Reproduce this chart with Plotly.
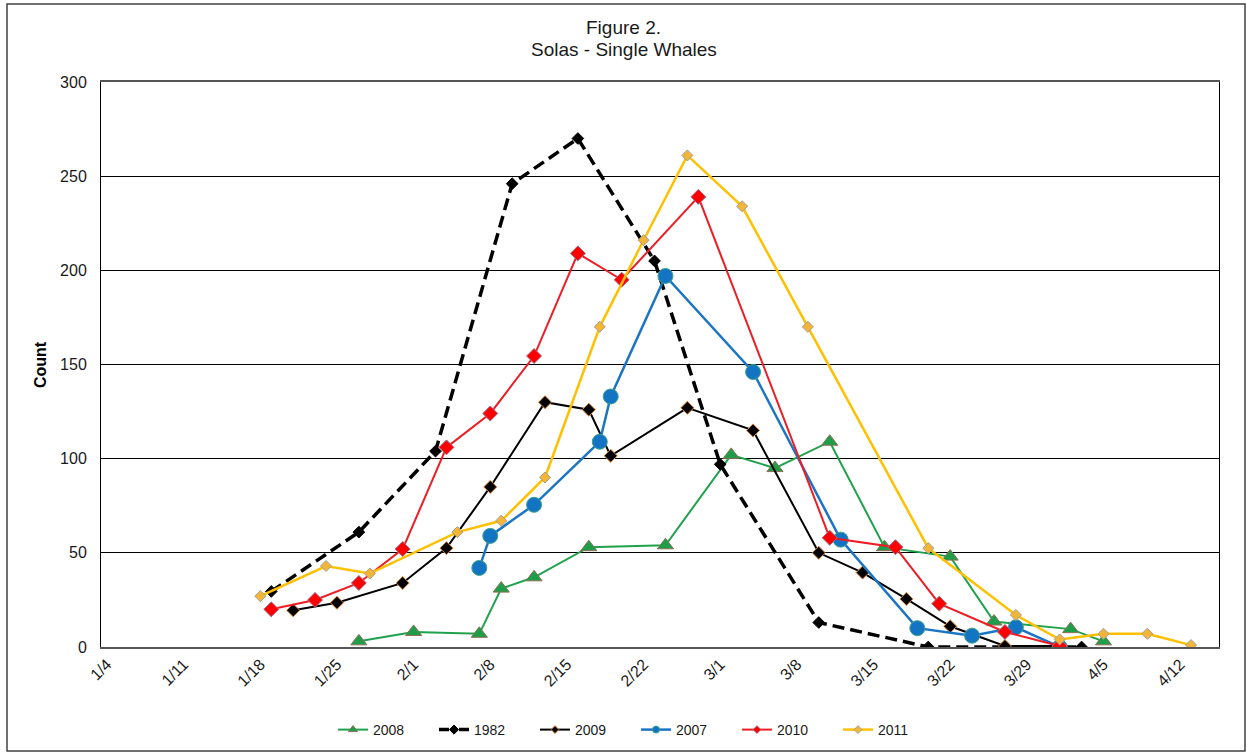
import plotly.graph_objects as go

YEAR = 2001

# ---- data (month/day, counts) ----
dates_2008 = ["1/27", "2/1", "2/7", "2/9", "2/12", "2/17", "2/24", "3/2", "3/6", "3/11",
              "3/16", "3/22", "3/26", "4/2", "4/5"]
count_2008 = [3, 8, 7, 31, 37, 53, 54, 102, 95, 109, 53, 48, 13.5, 9.5, 3]

dates_1982 = ["1/19", "1/27", "2/3", "2/10", "2/16", "2/23", "3/1", "3/10", "3/20", "4/3"]
count_1982 = [29.5, 61, 104, 246, 270, 205, 97, 13, 0, 0]

dates_2009 = ["1/21", "1/25", "1/31", "2/4", "2/8", "2/13", "2/17", "2/19", "2/26", "3/4",
              "3/10", "3/14", "3/18", "3/22", "3/27", "4/1"]
count_2009 = [19.5, 23.5, 34, 52.5, 85, 130, 126, 101.5, 127, 115, 50, 39.5, 25.5, 11, 0.5, 0.5]

dates_2007 = ["2/7", "2/8", "2/12", "2/18", "2/19", "2/24", "3/4", "3/12", "3/19", "3/24",
              "3/28", "4/1"]
count_2007 = [42, 59, 75.5, 109, 133, 197, 146, 57, 10, 6, 10.5, 0]

dates_2010 = ["1/19", "1/23", "1/27", "1/31", "2/4", "2/8", "2/12", "2/16", "2/20", "2/27",
              "3/11", "3/17", "3/21", "3/27", "4/1"]
count_2010 = [20, 25, 34, 52, 106, 124, 154.5, 209, 195, 239, 58, 53, 23, 8, 0.5]

dates_2011 = ["1/18", "1/24", "1/28", "2/5", "2/9", "2/13", "2/18", "2/22", "2/26", "3/3",
              "3/9", "3/20", "3/28", "4/1", "4/5", "4/9", "4/13"]
count_2011 = [27, 43, 39, 61, 67, 90, 170, 216, 261, 234, 170, 52.5, 17, 4, 7, 7, 1]

tick_labels = ["1/4", "1/11", "1/18", "1/25", "2/1", "2/8", "2/15", "2/22", "3/1", "3/8",
               "3/15", "3/22", "3/29", "4/5", "4/12"]


def to_date(s):
    m, d = s.split("/")
    return f"{YEAR}-{int(m):02d}-{int(d):02d}"


FONT = "Liberation Sans, Arial, sans-serif"
TXT = "#1a1a1a"

series = [
    # name, dates, counts, line style, marker style (plot), legend marker size, legend dash
    ("2008", dates_2008, count_2008,
     dict(color="#1FA24C", width=2),
     dict(symbol="triangle-up", size=14, color="#1E9E48", line=dict(color="#8C6F55", width=1)),
     8, None),
    ("1982", dates_1982, count_1982,
     dict(color="#000000", width=3.5, dash="12px,6px"),
     dict(symbol="diamond", size=9, color="#000000", line=dict(color="#000000", width=1)),
     7, "10px,10px"),
    ("2009", dates_2009, count_2009,
     dict(color="#000000", width=2),
     dict(symbol="diamond", size=10, color="#000000", line=dict(color="#D9822B", width=1)),
     6, None),
    ("2007", dates_2007, count_2007,
     dict(color="#1A75C4", width=2.5),
     dict(symbol="circle", size=15, color="#1474C4", line=dict(color="#3FA08A", width=1)),
     7, None),
    ("2010", dates_2010, count_2010,
     dict(color="#EE1C24", width=2),
     dict(symbol="diamond", size=11.5, color="#FF0000", line=dict(color="#9A6F8C", width=1)),
     6, None),
    ("2011", dates_2011, count_2011,
     dict(color="#FFC000", width=2.5),
     dict(symbol="diamond", size=8.5, color="#F3B536", line=dict(color="#9F9F9F", width=1)),
     6, None),
]

fig = go.Figure()

for name, dts, cnt, ln, mk, _, _ in series:
    fig.add_trace(go.Scatter(
        x=[to_date(s) for s in dts], y=cnt, name=name, mode="lines+markers",
        line=ln, marker=mk, showlegend=False, legendgroup=name))

# legend entries (small symbols as in the original legend)
for name, dts, cnt, ln, mk, lsize, ldash in series:
    lline = dict(ln)
    if ldash:
        lline["dash"] = ldash
    lmk = dict(mk)
    lmk["size"] = lsize
    fig.add_trace(go.Scatter(
        x=[None], y=[None], name=name, mode="lines+markers",
        line=lline, marker=lmk, showlegend=True, legendgroup=name))

L, R, T, B = 101, 28, 82, 106
W, H = 1247, 753
pw, ph = W - L - R, H - T - B


def px_x(p):
    return (p - L) / pw


def px_y(p):
    return (H - B - p) / ph


fig.update_layout(
    width=W, height=H,
    margin=dict(l=L, r=R, t=T, b=B, autoexpand=False),
    paper_bgcolor="white", plot_bgcolor="white",
    font=dict(family=FONT, color=TXT, size=14),
    title=dict(text="Figure 2.", x=0.5, xanchor="center",
               y=1 - 27 / H, yanchor="middle", font=dict(size=19, family=FONT, color=TXT)),
    showlegend=True,
    legend=dict(orientation="h", x=px_x(333), xanchor="left", y=px_y(730), yanchor="middle",
                font=dict(size=14, family=FONT, color=TXT),
                entrywidth=56, entrywidthmode="pixels", itemsizing="trace",
                bgcolor="rgba(0,0,0,0)", traceorder="normal"),
    xaxis=dict(
        type="date",
        range=[f"{YEAR}-01-03 10:48", f"{YEAR}-04-15 13:12"],
        tickmode="array",
        tickvals=[to_date(s) for s in tick_labels],
        ticktext=tick_labels,
        tickangle=-45,
        showgrid=False, zeroline=False,
        showline=True, linecolor="#555555", linewidth=1.5, mirror=True,
        ticks="", tickfont=dict(size=16, family=FONT, color=TXT),
    ),
    yaxis=dict(
        range=[0, 300], tickmode="linear", tick0=0, dtick=50,
        showgrid=True, gridcolor="#000000", gridwidth=1,
        zeroline=False, showline=True, linecolor="#000000", linewidth=1, mirror=True,
        ticks="", ticklabelstandoff=10,
        tickfont=dict(size=16, family=FONT, color=TXT),
    ),
    annotations=[
        dict(text="Solas - Single Whales", xref="paper", yref="paper",
             x=px_x(W / 2), y=px_y(49), xanchor="center", yanchor="middle",
             showarrow=False, font=dict(size=19, family=FONT, color=TXT)),
        dict(text="<b>Count</b>", xref="paper", yref="paper",
             x=px_x(40), y=px_y(365), xanchor="center", yanchor="middle",
             textangle=-90, showarrow=False,
             font=dict(size=16, family=FONT, color="#000000")),
    ],
    shapes=[dict(type="rect", xref="paper", yref="paper",
                 x0=px_x(7), x1=px_x(1245), y0=px_y(751), y1=px_y(4),
                 line=dict(color="#404040", width=1.5), layer="below")],
)

fig.write_html("out.html", config={"displayModeBar": False},
               post_script="document.body.style.margin='0';")
